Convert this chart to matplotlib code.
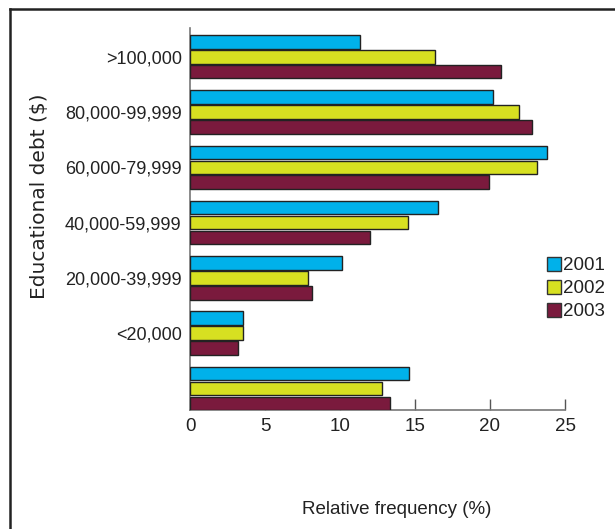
import matplotlib
matplotlib.use("Agg")
import numpy as np
import matplotlib.pyplot as plt
from matplotlib.patches import Patch
from matplotlib.lines import Line2D

# ── data ──────────────────────────────────────────────────────────────────────
categories = [">100,000", "80,000-99,999", "60,000-79,999", "40,000-59,999",
              "20,000-39,999", "<20,000", ""]
years = ["2001", "2002", "2003"]
vals_2001 = [11.3, 20.2, 23.8, 16.5, 10.1, 3.5, 14.6]
vals_2002 = [16.3, 21.9, 23.1, 14.5, 7.85, 3.5, 12.8]
vals_2003 = [20.7, 22.8, 19.9, 12.0, 8.1, 3.2, 13.3]
colors = ["#00b1ea", "#d7e021", "#7a1a3d"]

NARROW = ["Liberation Sans", "DejaVu Sans"]   # no condensed face installed
WIDE = ["DejaVu Sans"]

fig = plt.figure(figsize=(6.15, 5.29), dpi=100)
ax = fig.add_axes([190 / 615, 1 - 410 / 529, 375 / 615, 382 / 529])

# groups top→bottom
ypos = np.arange(len(categories))[::-1].astype(float)
step, h = 0.27, 0.245
for i, (vals, c) in enumerate(zip([vals_2001, vals_2002, vals_2003], colors)):
    ax.barh(ypos + step * (1 - i), vals, height=h, color=c,
            edgecolor="#222222", linewidth=1.0, zorder=3)

ax.set_xlim(0, 25)
ax.set_ylim(-0.39, 6.52)
ax.set_xticks([0, 5, 10, 15, 20, 25])
ax.set_yticks(ypos)
ax.set_yticklabels(categories, family=NARROW, fontsize=13)
for lab in ax.get_xticklabels():
    lab.set_family(NARROW)
    lab.set_fontsize(13.5)
ax.tick_params(axis="x", direction="in", length=8, width=1, color="#555555",
               pad=6, labelcolor="#222222")
ax.tick_params(axis="y", length=0, pad=6, labelcolor="#222222")
for s in ["top", "right"]:
    ax.spines[s].set_visible(False)
for s in ["left", "bottom"]:
    ax.spines[s].set_color("#777777")
    ax.spines[s].set_linewidth(1.2)

fig.text(40 / 615, 1 - 196 / 529, "Educational debt ($)", rotation=90,
         ha="center", va="center", family=WIDE, fontsize=14.5, color="#222222")
fig.text(397 / 615, 1 - 509 / 529, "Relative frequency (%)", ha="center",
         va="center", family=NARROW, fontsize=13.5, color="#222222")

handles = [Patch(facecolor=c, edgecolor="#333333", linewidth=1.0) for c in colors]
fig.legend(handles, years, loc="upper left",
           bbox_to_anchor=(547 / 615, 1 - 257 / 529), frameon=False,
           prop={"family": NARROW, "size": 13.5}, handlelength=0.75,
           handleheight=0.75, handletextpad=0.12, labelspacing=0.3,
           borderaxespad=0, borderpad=0, labelcolor="#222222")

# outer frame (only top and left edges visible)
fig.add_artist(Line2D([10 / 615, 10 / 615], [0, 1 - 9 / 529],
                      transform=fig.transFigure, color="#222222", lw=1.8))
fig.add_artist(Line2D([10 / 615, 1], [1 - 9 / 529, 1 - 9 / 529],
                      transform=fig.transFigure, color="#222222", lw=1.8))

fig.savefig("out.png", dpi=100)
